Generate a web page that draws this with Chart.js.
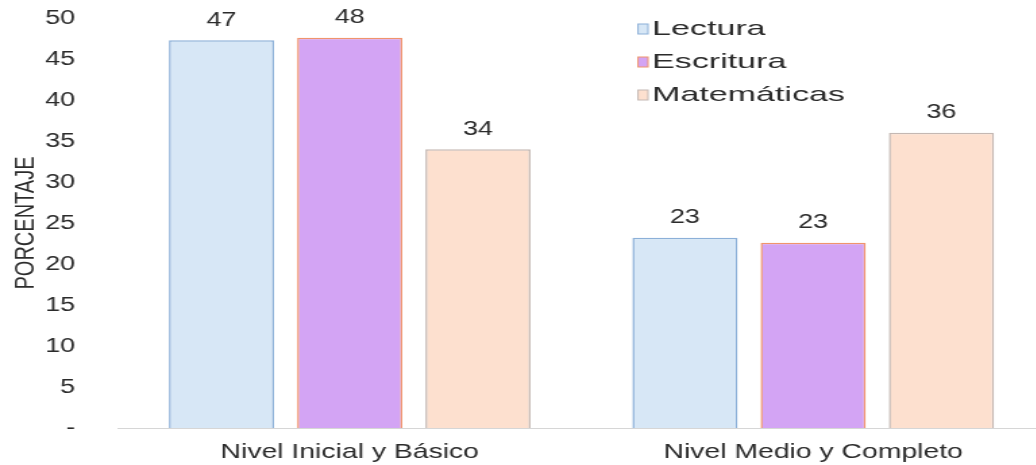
<!DOCTYPE html>
<html lang="es">
<head>
    <meta charset="UTF-8">
    <title>Porcentaje por nivel</title>
    <script src="https://cdn.jsdelivr.net/npm/chart.js@4.4.0/dist/chart.umd.min.js"></script>
    <style>
        html, body { margin: 0; padding: 0; background: #fff; overflow: hidden; }
        /* la imagen original viene estirada a lo ancho */
        #wrap { width: 774px; height: 465px; transform: scaleX(1.35); transform-origin: 0 0; }
    </style>
</head>
<body>
    <div id="wrap"><canvas id="grafico" width="774" height="465"></canvas></div>

<script>
    var niveles = ['Nivel Inicial y Básico', 'Nivel Medio y Completo'];
    var lectura = [47.3, 23.2];
    var escritura = [47.6, 22.6];
    var matematicas = [34.0, 36.0];
    var marcasY = [0, 5, 10, 15, 20, 25, 30, 35, 40, 45, 50];

    var fuente = '"Liberation Sans", Arial, sans-serif';
    Chart.defaults.font.family = fuente;
    Chart.defaults.color = '#2b2b2b';

    // numeros encima de cada barra
    const etiquetas = {
        id: 'etiquetas',
        afterDatasetsDraw(chart) {
            const ctx = chart.ctx;
            ctx.save();
            ctx.font = '20px ' + fuente;
            ctx.fillStyle = '#2b2b2b';
            ctx.textAlign = 'center';
            ctx.textBaseline = 'middle';
            chart.data.datasets.forEach(function (ds, i) {
                chart.getDatasetMeta(i).data.forEach(function (barra, j) {
                    ctx.fillText(Math.round(ds.data[j]), barra.x, barra.y - 20);
                });
            });
            ctx.restore();
        }
    };

    // leyenda dentro del grafico
    const leyenda = {
        id: 'leyenda',
        afterDraw(chart) {
            const ctx = chart.ctx;
            const filas = [29, 62, 95];
            ctx.save();
            ctx.font = '21px ' + fuente;
            ctx.textBaseline = 'middle';
            chart.data.datasets.forEach(function (ds, i) {
                const y = filas[i];
                ctx.fillStyle = ds.backgroundColor;
                ctx.strokeStyle = ds.borderColor;
                ctx.lineWidth = 1;
                ctx.fillRect(472.6, y - 5, 7.4, 10);
                ctx.strokeRect(472.6, y - 5, 7.4, 10);
                ctx.save();
                ctx.translate(483, y);
                ctx.scale(1.2, 1);
                ctx.fillStyle = '#2b2b2b';
                ctx.fillText(ds.label, 0, 0);
                ctx.restore();
            });
            ctx.restore();
        }
    };

    const data = {
        labels: niveles,
        datasets: [
            {
                label: 'Lectura',
                data: lectura,
                backgroundColor: '#d7e7f6',
                borderColor: '#8cb0d8'
            },
            {
                label: 'Escritura',
                data: escritura,
                backgroundColor: '#d3a4f4',
                borderColor: '#f0946c'
            },
            {
                label: 'Matemáticas',
                data: matematicas,
                backgroundColor: '#fde0cf',
                borderColor: '#c4b8b3'
            }
        ]
    };

    const config = {
        type: 'bar',
        data: data,
        options: {
            responsive: false,
            animation: false,
            layout: { padding: { top: 18, left: 0, right: 0, bottom: 0 } },
            datasets: {
                bar: {
                    borderWidth: 1.5,
                    categoryPercentage: 0.83,
                    barPercentage: 0.82
                }
            },
            plugins: {
                legend: { display: false },
                tooltip: { enabled: false }
            },
            scales: {
                x: {
                    grid: { display: false },
                    border: { display: true, color: '#d6d6d6', width: 1 },
                    ticks: { font: { size: 21 }, padding: 4, color: '#2b2b2b' },
                    afterFit: function (s) { s.height = 37; }
                },
                y: {
                    min: 0,
                    max: 50,
                    grid: { display: false },
                    border: { display: false },
                    afterBuildTicks: function (s) {
                        s.ticks = marcasY.map(function (v) { return { value: v }; });
                    },
                    ticks: {
                        font: { size: 20 },
                        padding: 23.7,
                        color: '#2b2b2b',
                        callback: function (v) { return v === 0 ? '-' : v; }
                    },
                    title: {
                        display: true,
                        text: 'PORCENTAJE',
                        font: { size: 20 },
                        color: '#2b2b2b',
                        padding: { top: 7, bottom: 0 }
                    },
                    afterFit: function (s) {
                        s.width = 87.4;
                        s.paddingTop = 0;
                        s.paddingBottom = 0;
                    }
                }
            }
        },
        plugins: [etiquetas, leyenda]
    };

    const grafico = new Chart(document.getElementById('grafico'), config);
</script>
</body>
</html>
